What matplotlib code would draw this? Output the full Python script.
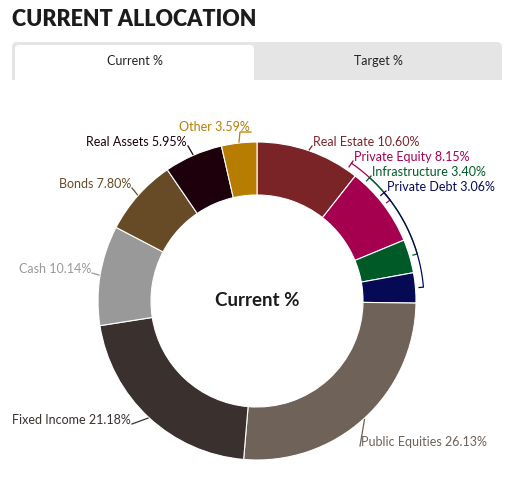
import numpy as np
import matplotlib.pyplot as plt
from matplotlib.patches import FancyBboxPatch, Rectangle

W, H = 515, 504

categories = ['Real Estate', 'Private Equity', 'Infrastructure', 'Private Debt',
              'Public Equities', 'Fixed Income', 'Cash', 'Bonds', 'Real Assets', 'Other']
current_pct = [10.60, 8.15, 3.40, 3.06, 26.13, 21.18, 10.14, 7.80, 5.95, 3.59]
colors = ['#7b2428', '#a50050', '#005a28', '#060a55', '#6e6259',
          '#3a302e', '#999999', '#674a26', '#1e000c', '#b77d00']
tab_labels = ['Current %', 'Target %']
title = 'CURRENT ALLOCATION'

# label layout in pixels (x, y from top, alignment, bracket style)
label_layout = {
    'Real Estate': (313, 142, 'left', False),
    'Private Equity': (354, 157, 'left', True),
    'Infrastructure': (372, 172, 'left', True),
    'Private Debt': (387, 187, 'left', True),
    'Public Equities': (361, 442, 'left', False),
    'Fixed Income': (131, 420, 'right', False),
    'Cash': (91, 269, 'right', False),
    'Bonds': (131, 184, 'right', False),
    'Real Assets': (187, 142, 'right', False),
    'Other': (250, 127, 'right', False),
}

cx, cy = 257, 301
r_out, ring = 159, 53
font = 'Lato'

fig = plt.figure(figsize=(W / 100, H / 100), dpi=100)
ax = fig.add_axes([0, 0, 1, 1])


def Y(y):
    return H - y


# title
ax.text(12, Y(20), title, fontsize=15.5, fontweight='heavy', family=font,
        color='#1b1b1b', ha='left', va='center')

# tabs
ax.add_patch(FancyBboxPatch((12, Y(90)), 490, 48, boxstyle='round,pad=0,rounding_size=5',
                            facecolor='#e5e5e5', edgecolor='none'))
ax.add_patch(FancyBboxPatch((15, Y(90)), 239, 45, boxstyle='round,pad=0,rounding_size=4',
                            facecolor='white', edgecolor='none'))
ax.add_patch(Rectangle((0, Y(100)), W, 20, facecolor='white', edgecolor='none'))
ax.text(135, Y(61), tab_labels[0], fontsize=9, family=font, color='#222222',
        ha='center', va='center')
ax.text(378, Y(61), tab_labels[1], fontsize=9, family=font, color='#222222',
        ha='center', va='center')

# donut
wedges, _ = ax.pie(current_pct, colors=colors, startangle=90, counterclock=False,
                   center=(cx, Y(cy)), radius=r_out,
                   wedgeprops=dict(width=ring, edgecolor='white', linewidth=0.8))

ax.text(cx, Y(cy), 'Current %', fontsize=13.5, fontweight='bold', family=font,
        color='#1b1b1b', ha='center', va='center')


def polar(r, deg):
    t = np.radians(deg)
    return cx + r * np.cos(t), Y(cy) + r * np.sin(t)


for name, val, col, w in zip(categories, current_pct, colors, wedges):
    lx, ly, ha, bracket = label_layout[name]
    mid = (w.theta1 + w.theta2) / 2
    ax_x = lx - 1 if ha == 'left' else lx + 1
    ax_y = Y(ly + 5) if name == 'Other' else Y(ly + 4)
    if bracket:
        lab_ang = np.degrees(np.arctan2(ax_y - Y(cy), ax_x - cx))
        rb = r_out + 8
        angs = np.linspace(lab_ang, mid, 40)
        px = [polar(r_out + 3, lab_ang)[0]] + [polar(rb, a)[0] for a in angs] + [polar(r_out + 3, mid)[0]]
        py = [polar(r_out + 3, lab_ang)[1]] + [polar(rb, a)[1] for a in angs] + [polar(r_out + 3, mid)[1]]
        ax.plot(px, py, color=col, lw=0.9, solid_capstyle='butt')
        sx, sy = polar(rb, lab_ang)
        ax.plot([sx, ax_x], [sy, ax_y], color=col, lw=0.9)
    elif name == 'Other':
        sx, sy = polar(r_out + 1, mid)
        ax.plot([sx, sx + 1, ax_x], [sy, ax_y, ax_y], color=col, lw=0.9)
    else:
        sx, sy = polar(r_out + 1, mid)
        ax.plot([sx, ax_x], [sy, ax_y], color=col, lw=0.9)
    ax.text(lx, Y(ly), f'{name} {val:.2f}%', fontsize=9, family=font, color=col,
            ha=ha, va='center')

ax.set_xlim(0, W)
ax.set_ylim(0, H)
ax.set_aspect('auto')
ax.axis('off')

fig.savefig('out.png', dpi=100, facecolor='white')
